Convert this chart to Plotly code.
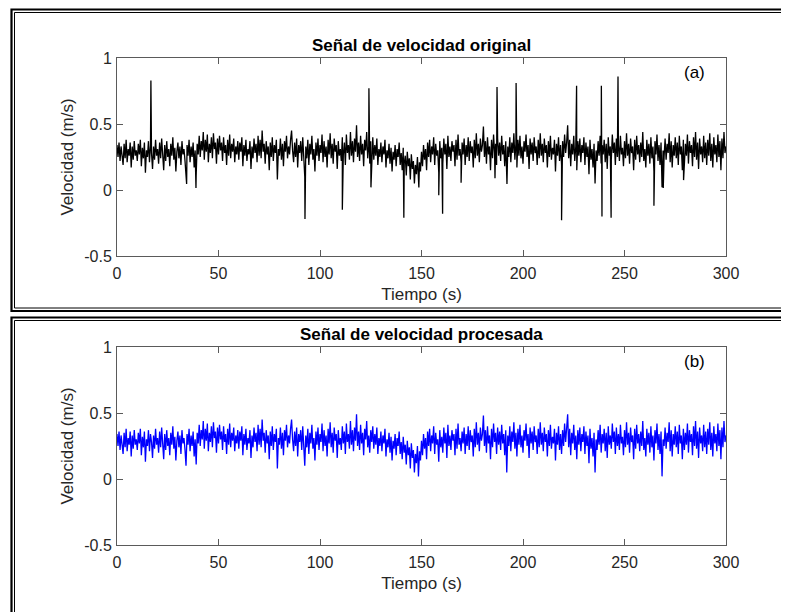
import numpy as np
import plotly.graph_objects as go

# velocidad procesada, muestreada cada 0.5 s (leida a ojo del grafico)
dt = 0.5
vel_procesada = [
    0.34, 0.25, 0.36, 0.22, 0.33, 0.27, 0.19, 0.35, 0.24, 0.38, 0.21, 0.31, 0.26, 0.36, 0.17, 0.33, 0.23, 0.37, 0.26, 0.30,
    0.22, 0.35, 0.27, 0.38, 0.18, 0.32, 0.24, 0.36, 0.13, 0.30, 0.25, 0.37, 0.21, 0.34, 0.28, 0.16, 0.33, 0.23, 0.38, 0.26,
    0.31, 0.20, 0.36, 0.24, 0.39, 0.27, 0.15, 0.34, 0.22, 0.37, 0.25, 0.31, 0.18, 0.35, 0.26, 0.40, 0.23, 0.32, 0.14, 0.29,
    0.36, 0.24, 0.33, 0.19, 0.37, 0.27, 0.31, 0.22, 0.10, 0.34, 0.26, 0.38, 0.21, 0.33, 0.25, 0.36, 0.17, 0.30, 0.11, 0.35,
    0.27, 0.41, 0.25, 0.37, 0.30, 0.44, 0.23, 0.38, 0.29, 0.42, 0.21, 0.35, 0.28, 0.40, 0.24, 0.43, 0.31, 0.36, 0.20, 0.39,
    0.27, 0.41, 0.30, 0.36, 0.22, 0.40, 0.28, 0.34, 0.19, 0.38, 0.26, 0.42, 0.24, 0.35, 0.29, 0.39, 0.21, 0.33, 0.27, 0.37,
    0.23, 0.36, 0.29, 0.40, 0.18, 0.34, 0.26, 0.38, 0.22, 0.31, 0.27, 0.37, 0.16, 0.33, 0.24, 0.39, 0.28, 0.35, 0.21, 0.41,
    0.26, 0.38, 0.24, 0.45, 0.29, 0.35, 0.20, 0.37, 0.27, 0.33, 0.15, 0.36, 0.25, 0.40, 0.22, 0.34, 0.28, 0.38, 0.08, 0.31,
    0.26, 0.39, 0.23, 0.35, 0.18, 0.37, 0.29, 0.41, 0.24, 0.33, 0.27, 0.38, 0.45, 0.30, 0.21, 0.36, 0.25, 0.39, 0.17, 0.34,
    0.28, 0.37, 0.22, 0.40, 0.26, 0.10, 0.33, 0.24, 0.38, 0.19, 0.35, 0.27, 0.41, 0.23, 0.31, 0.14, 0.36, 0.26, 0.39, 0.22,
    0.34, 0.28, 0.42, 0.21, 0.37, 0.25, 0.33, 0.17, 0.38, 0.27, 0.43, 0.24, 0.35, 0.20, 0.39, 0.29, 0.34, 0.16, 0.37, 0.26,
    0.31, 0.22, 0.40, 0.27, 0.36, 0.19, 0.42, 0.28, 0.34, 0.23, 0.44, 0.26, 0.37, 0.21, 0.39, 0.29, 0.49, 0.25, 0.36, 0.22,
    0.41, 0.27, 0.35, 0.18, 0.38, 0.30, 0.44, 0.24, 0.33, 0.20, 0.37, 0.28, 0.40, 0.23, 0.34, 0.26, 0.39, 0.19, 0.31, 0.25,
    0.36, 0.21, 0.33, 0.27, 0.38, 0.17, 0.30, 0.24, 0.35, 0.20, 0.32, 0.14, 0.29, 0.23, 0.34, 0.18, 0.31, 0.25, 0.36, 0.19,
    0.28, 0.15, 0.32, 0.20, 0.26, 0.11, 0.29, 0.18, 0.24, 0.08, 0.27, 0.16, 0.22, 0.05, 0.19, 0.12, 0.25, 0.02, 0.21, 0.14,
    0.29, 0.18, 0.34, 0.23, 0.31, 0.15, 0.36, 0.25, 0.38, 0.21, 0.33, 0.27, 0.40, 0.19, 0.35, 0.26, 0.30, 0.13, 0.37, 0.24,
    0.32, 0.20, 0.39, 0.27, 0.35, 0.16, 0.41, 0.25, 0.33, 0.22, 0.37, 0.29, 0.34, 0.18, 0.38, 0.23, 0.42, 0.26, 0.31, 0.21,
    0.36, 0.27, 0.39, 0.19, 0.34, 0.25, 0.40, 0.22, 0.37, 0.28, 0.33, 0.17, 0.38, 0.24, 0.43, 0.26, 0.35, 0.21, 0.39, 0.29,
    0.34, 0.48, 0.25, 0.37, 0.20, 0.40, 0.27, 0.33, 0.15, 0.38, 0.24, 0.42, 0.28, 0.35, 0.19, 0.39, 0.26, 0.36, 0.22, 0.41,
    0.27, 0.34, 0.18, 0.37, 0.05, 0.33, 0.25, 0.40, 0.21, 0.36, 0.28, 0.43, 0.23, 0.35, 0.17, 0.38, 0.26, 0.41, 0.24, 0.33,
    0.20, 0.37, 0.29, 0.42, 0.25, 0.34, 0.16, 0.39, 0.27, 0.36, 0.22, 0.40, 0.28, 0.33, 0.19, 0.38, 0.24, 0.43, 0.26, 0.35,
    0.21, 0.39, 0.28, 0.34, 0.17, 0.37, 0.25, 0.41, 0.23, 0.32, 0.27, 0.38, 0.14, 0.35, 0.26, 0.40, 0.22, 0.34, 0.19, 0.37,
    0.25, 0.42, 0.28, 0.36, 0.49, 0.24, 0.38, 0.18, 0.35, 0.27, 0.41, 0.22, 0.33, 0.15, 0.37, 0.26, 0.39, 0.21, 0.34, 0.28,
    0.40, 0.19, 0.36, 0.25, 0.33, 0.12, 0.38, 0.23, 0.31, 0.17, 0.35, 0.05, 0.30, 0.22, 0.37, 0.26, 0.41, 0.20, 0.34, 0.27,
    0.38, 0.21, 0.35, 0.16, 0.40, 0.26, 0.33, 0.23, 0.42, 0.28, 0.36, 0.19, 0.39, 0.25, 0.34, 0.22, 0.41, 0.27, 0.32, 0.18,
    0.37, 0.24, 0.43, 0.26, 0.35, 0.20, 0.39, 0.28, 0.33, 0.15, 0.38, 0.23, 0.41, 0.27, 0.34, 0.21, 0.36, 0.25, 0.44, 0.22,
    0.31, 0.17, 0.38, 0.26, 0.35, 0.20, 0.40, 0.24, 0.33, 0.14, 0.37, 0.27, 0.42, 0.22, 0.34, 0.19, 0.36, 0.02, 0.30, 0.25,
    0.39, 0.23, 0.35, 0.28, 0.43, 0.21, 0.37, 0.17, 0.34, 0.26, 0.40, 0.24, 0.36, 0.19, 0.41, 0.27, 0.33, 0.15, 0.38, 0.22,
    0.35, 0.26, 0.42, 0.20, 0.37, 0.28, 0.34, 0.18, 0.40, 0.25, 0.44, 0.23, 0.36, 0.16, 0.39, 0.27, 0.33, 0.21, 0.41, 0.24,
    0.36, 0.19, 0.38, 0.26, 0.43, 0.22, 0.35, 0.17, 0.40, 0.27, 0.34, 0.21, 0.42, 0.25, 0.37, 0.15, 0.39, 0.24, 0.44, 0.28,
    0.33,
]

# picos (outliers) presentes solo en la senal original
picos_t = [16.7, 34.3, 38.9, 92.6, 111.0, 124.1, 125.1, 141.3, 148.7, 158.5, 160.4, 169.5, 186.2,
           187.2, 192.1, 196.6, 219.0, 226.4, 238.6, 238.9, 243.4, 246.8, 264.5, 269.1, 279.1]
picos_v = [0.83, 0.045, 0.015, -0.22, -0.15, 0.77, 0.02, -0.21, 0.02, -0.04, -0.18, 0.055, 0.09,
           0.78, 0.045, 0.81, -0.23, 0.79, 0.79, -0.20, -0.21, 0.86, -0.12, 0.015, 0.075]

x_ticks = [0, 50, 100, 150, 200, 250, 300]
y_ticks = [-0.5, 0, 0.5, 1]
y_ticktext = ["-0.5", "0", "0.5", "1"]

t = np.arange(len(vel_procesada)) * dt
x_orig = np.concatenate([t, picos_t])
y_orig = np.concatenate([vel_procesada, picos_v])
orden = np.argsort(x_orig, kind="stable")
x_orig = x_orig[orden]
y_orig = y_orig[orden]

# la pagina pone el grafico 8 px abajo/derecha (margen del body)
OFF = 8
W, H = 789 - OFF, 612 - OFF
# area de dibujo en pixeles de la figura
L, R, T, B = 117 - OFF, 726 - OFF, 58 - OFF, 545 - OFF

def px_x(p):
    return (p - OFF - L) / (R - L)

def px_y(p):
    return (B - (p - OFF)) / (B - T)

FONT = "Liberation Sans, Arial, Helvetica, sans-serif"
gris = "#5a5a5a"

fig = go.Figure()
fig.add_trace(go.Scatter(x=x_orig, y=y_orig, mode="lines",
                         line=dict(color="black", width=1.3),
                         xaxis="x", yaxis="y", showlegend=False))
fig.add_trace(go.Scatter(x=t, y=vel_procesada, mode="lines",
                         line=dict(color="#0000ff", width=1.3),
                         xaxis="x2", yaxis="y2", showlegend=False))

eje = dict(showline=True, linecolor=gris, linewidth=1, mirror="ticks",
           ticks="inside", ticklen=6, tickcolor=gris, showgrid=False, zeroline=False,
           tickfont=dict(family=FONT, size=16, color="#262626"))
ejex = dict(eje, range=[0, 300], tickvals=x_ticks, ticklabelstandoff=3,
            title=dict(text="Tiempo (s)", font=dict(family=FONT, size=17, color="#262626"), standoff=6))
ejey = dict(eje, range=[-0.5, 1], tickvals=y_ticks, ticktext=y_ticktext, ticklabelstandoff=1,
            title=dict(text="Velocidad (m/s)", font=dict(family=FONT, size=17, color="#262626"), standoff=6))

fig.update_layout(
    width=W, height=H,
    margin=dict(l=L, r=W - R, t=T, b=H - B),
    paper_bgcolor="white", plot_bgcolor="white",
    xaxis=dict(ejex, domain=[0, 1], anchor="y"),
    yaxis=dict(ejey, domain=[px_y(256), 1], anchor="x"),
    xaxis2=dict(ejex, domain=[0, 1], anchor="y2"),
    yaxis2=dict(ejey, domain=[0, px_y(347)], anchor="x2"),
)

anots = [
    ("<b>Señal de velocidad original</b>", 0.5, px_y(58), "center", "bottom"),
    ("<b>Señal de velocidad procesada</b>", 0.5, px_y(347), "center", "bottom"),
    ("(a)", px_x(707), px_y(73), "right", "middle"),
    ("(b)", px_x(707), px_y(362), "right", "middle"),
]
for texto, x, y, xa, ya in anots:
    fig.add_annotation(text=texto, x=x, y=y, xref="paper", yref="paper",
                       xanchor=xa, yanchor=ya, showarrow=False, yshift=1 if ya == "bottom" else 0,
                       font=dict(family=FONT, size=17, color="black"))

# marcos dobles alrededor de cada panel
for (top, bot) in [(9, 311), (317, 620)]:
    fig.add_shape(type="rect", xref="paper", yref="paper",
                  x0=px_x(11.5), x1=px_x(800), y0=px_y(top + 0.5), y1=px_y(bot),
                  line=dict(color="black", width=2.2), fillcolor="rgba(0,0,0,0)")
    fig.add_shape(type="rect", xref="paper", yref="paper",
                  x0=px_x(14.5), x1=px_x(797), y0=px_y(top + 3.5), y1=px_y(bot - 3),
                  line=dict(color="black", width=1), fillcolor="rgba(0,0,0,0)")

fig.write_html("out.html")
